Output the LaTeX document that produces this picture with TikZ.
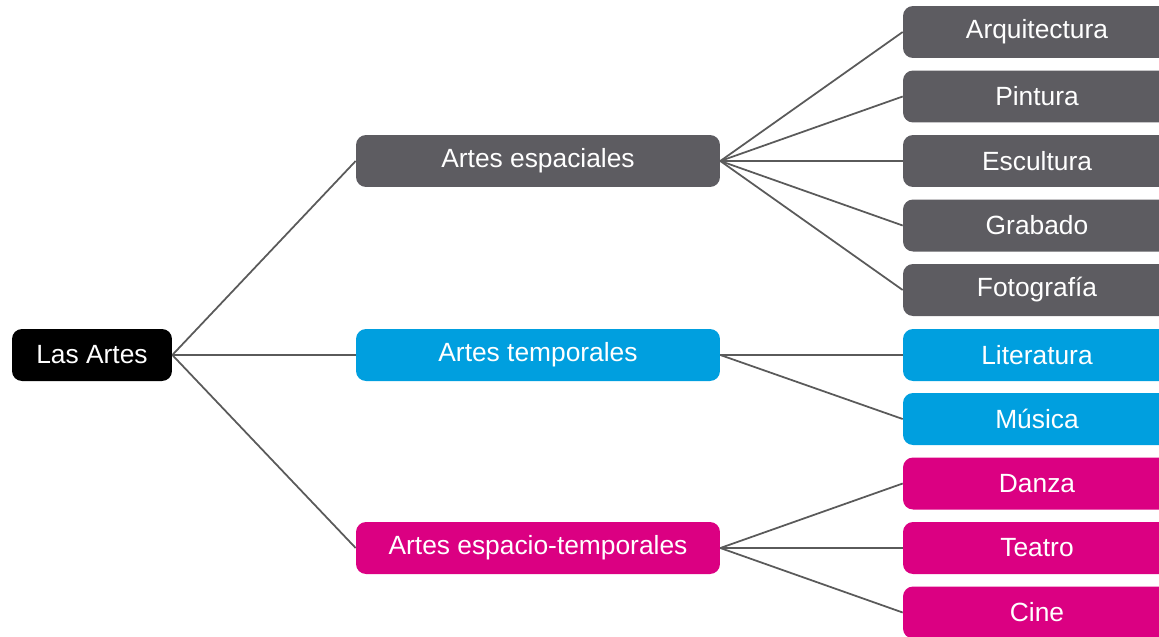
\documentclass[tikz,border=0pt]{standalone}
\usepackage{fontspec}
\setmainfont{Liberation Sans}
\definecolor{gris}{HTML}{5D5C61}
\definecolor{azul}{HTML}{009FDF}
\definecolor{rosa}{HTML}{DB0082}
\definecolor{trazo}{HTML}{5A5A5A}
\tikzset{
  caja/.style={rounded corners=0.2cm, text=white, inner sep=0pt,
    minimum height=1.04cm, font=\fontsize{15}{18}\selectfont},
  raiz/.style={caja, fill=black, minimum width=3.2cm},
  rama/.style={caja, minimum width=7.28cm},
  hoja/.style={caja, minimum width=5.36cm},
  enlace/.style={draw=trazo, line width=1pt}
}
\begin{document}
\begin{tikzpicture}[x=0.02cm,y=-0.02cm]
            \path[use as bounding box, clip] (0,0) rectangle (1159,636);

            % Raiz
            \node[raiz] (artes) at (92,355) {Las Artes};

            % Ramas
            \node[rama, fill=gris] (espaciales) at (538,161) {Artes espaciales};
            \node[rama, fill=azul] (temporales) at (538,355) {Artes temporales};
            \node[rama, fill=rosa] (espaciotemp) at (538,548) {Artes espacio-temporales};

            % Hojas
            \node[hoja, fill=gris] (arquitectura) at (1037,32) {Arquitectura};
            \node[hoja, fill=gris] (pintura) at (1037,96.5) {Pintura};
            \node[hoja, fill=gris] (escultura) at (1037,161) {Escultura};
            \node[hoja, fill=gris] (grabado) at (1037,225.5) {Grabado};
            \node[hoja, fill=gris] (fotografia) at (1037,290) {Fotografía};
            \node[hoja, fill=azul] (literatura) at (1037,355) {Literatura};
            \node[hoja, fill=azul] (musica) at (1037,419) {Música};
            \node[hoja, fill=rosa] (danza) at (1037,483.5) {Danza};
            \node[hoja, fill=rosa] (teatro) at (1037,548) {Teatro};
            \node[hoja, fill=rosa] (cine) at (1037,612.5) {Cine};

            % Enlaces
            \foreach \r in {espaciales, temporales, espaciotemp}
              \draw[enlace] (artes.east) -- (\r.west);
            \foreach \h in {arquitectura, pintura, escultura, grabado, fotografia}
              \draw[enlace] (espaciales.east) -- (\h.west);
            \foreach \h in {literatura, musica}
              \draw[enlace] (temporales.east) -- (\h.west);
            \foreach \h in {danza, teatro, cine}
              \draw[enlace] (espaciotemp.east) -- (\h.west);
        \end{tikzpicture}
\end{document}
